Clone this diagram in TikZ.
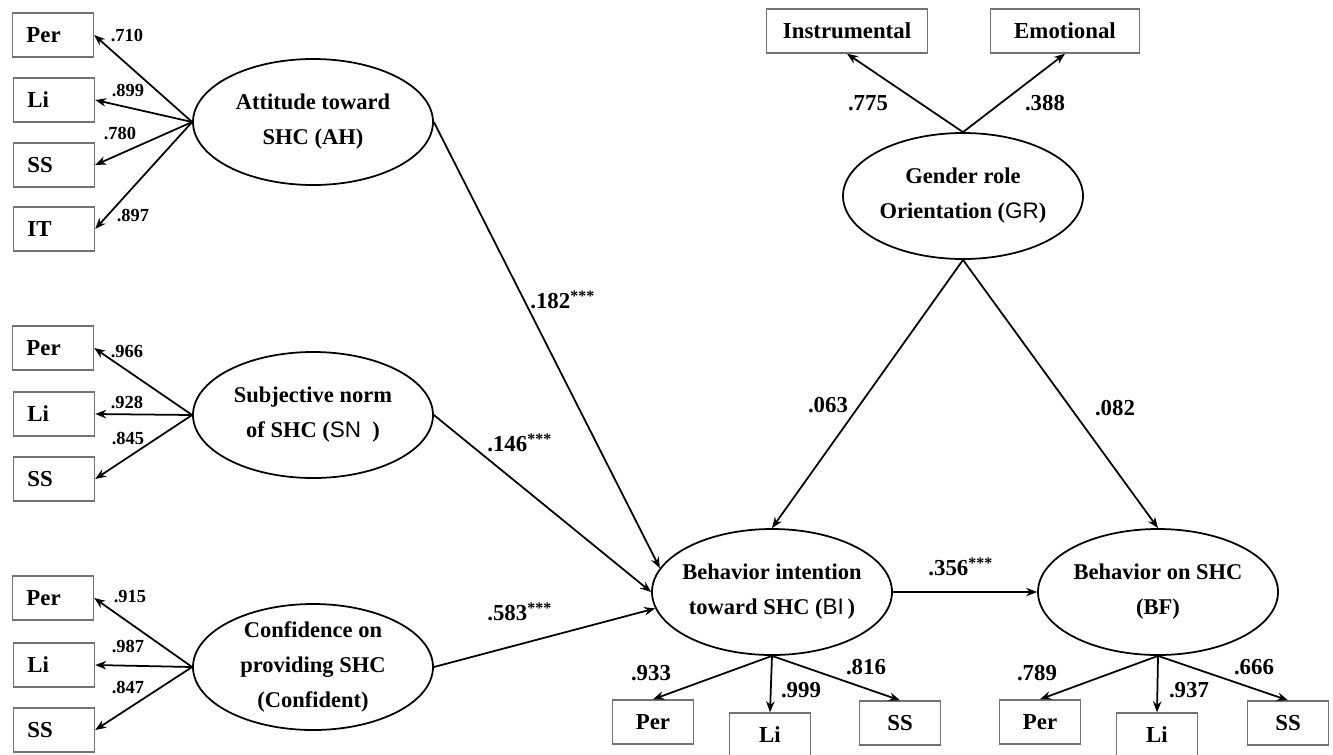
\documentclass[tikz,border=0pt]{standalone}
\usepackage{fontspec}
\setmainfont{Liberation Serif}
\setsansfont{Liberation Sans}
\usetikzlibrary{shapes.geometric, arrows.meta}

\tikzset{
   lat/.style={draw, ellipse, line width=1pt, minimum width=48mm, minimum height=25.2mm, inner sep=-4mm, align=center, font=\bfseries\fontsize{12.8}{20}\selectfont},
   obs/.style={draw=black!55, line width=0.8pt, minimum width=16.2mm, minimum height=8.8mm, inner sep=0pt, font=\bfseries\fontsize{13}{15}\selectfont},
   obsl/.style={obs, text width=10.6mm, align=left},
   load/.style={inner sep=0pt, font=\bfseries\fontsize{10.5}{12}\selectfont},
   coef/.style={inner sep=0pt, font=\bfseries\fontsize{13}{15}\selectfont},
   arr/.style={line width=1pt, -{Stealth[length=2.2mm, width=1.7mm]}}
}

\begin{document}
\begin{tikzpicture}[x=0.2mm, y=-0.2mm]

   \useasboundingbox (0,0) rectangle (1333,754);

   % 潜在変数
   \node [lat] (AH) at (313,122) {Attitude toward\\SHC (AH)};
   \node [lat] (SN) at (313,415) {Subjective norm\\of SHC (\textsf{\mdseries SN}~~)};
   \node [lat] (CF) at (313,667) {Confidence on\\providing SHC\\(Confident)};
   \node [lat] (BI) at (772,592) {Behavior intention\\toward SHC (\textsf{\mdseries BI}\,)};
   \node [lat] (BF) at (1158,592) {Behavior on SHC\\(BF)};
   \node [lat] (GR) at (963,196) {Gender role\\Orientation (\textsf{\mdseries GR})};

   % 観測変数 (左)
   \node [obsl] (AHper) at (53,35) {Per};
   \node [obsl] (AHli) at (54,100) {Li};
   \node [obsl] (AHss) at (54,165) {SS};
   \node [obsl] (AHit) at (54,229) {IT};
   \node [obsl] (SNper) at (53,348) {Per};
   \node [obsl] (SNli) at (54,414) {Li};
   \node [obsl] (SNss) at (54,479) {SS};
   \node [obsl] (CFper) at (53,598) {Per};
   \node [obsl] (CFli) at (54,665) {Li};
   \node [obsl] (CFss) at (54,730) {SS};

   % 観測変数 (下・上)
   \node [obs] (BIper) at (653,722) {Per};
   \node [obs] (BIli) at (770,735) {Li};
   \node [obs] (BIss) at (900,723) {SS};
   \node [obs] (BFper) at (1040,722) {Per};
   \node [obs] (BFli) at (1157,735) {Li};
   \node [obs] (BFss) at (1288,723) {SS};
   \node [obs, minimum width=32.2mm] (GRins) at (847,31) {Instrumental};
   \node [obs, minimum width=29.8mm] (GRemo) at (1065,31) {Emotional};

   % 因子負荷
   \draw [arr](AH.west)--(AHper.east);
   \draw [arr](AH.west)--(AHli.east);
   \draw [arr](AH.west)--(AHss.east);
   \draw [arr](AH.west)--(AHit.east);
   \draw [arr](SN.west)--(SNper.east);
   \draw [arr](SN.west)--(SNli.east);
   \draw [arr](SN.west)--(SNss.east);
   \draw [arr](CF.west)--(CFper.east);
   \draw [arr](CF.west)--(CFli.east);
   \draw [arr](CF.west)--(CFss.east);
   \draw [arr](BI.south)--(BIper.north);
   \draw [arr](BI.south)--(BIli.north);
   \draw [arr](BI.south)--(BIss.north);
   \draw [arr](BF.south)--(BFper.north);
   \draw [arr](BF.south)--(BFli.north);
   \draw [arr](BF.south)--(BFss.north);
   \draw [arr](GR.north)--(GRins.south);
   \draw [arr](GR.north)--(GRemo.south);

   \node [load] (lAHper) at (127,35) {.710};
   \node [load] (lAHli) at (128,90) {.899};
   \node [load] (lAHss) at (120,133) {.780};
   \node [load] (lAHit) at (133,215) {.897};
   \node [load] (lSNper) at (127,352) {.966};
   \node [load] (lSNli) at (127,402) {.928};
   \node [load] (lSNss) at (128,438) {.845};
   \node [load] (lCFper) at (130,597) {.915};
   \node [load] (lCFli) at (128,646) {.987};
   \node [load] (lCFss) at (128,687) {.847};
   \node [coef] (lBIper) at (651,673) {.933};
   \node [coef] (lBIli) at (801,690) {.999};
   \node [coef] (lBIss) at (866,667) {.816};
   \node [coef] (lBFper) at (1037,673) {.789};
   \node [coef] (lBFli) at (1189,690) {.937};
   \node [coef] (lBFss) at (1254,667) {.666};
   \node [coef] (lGRins) at (868,103) {.775};
   \node [coef] (lGRemo) at (1045,103) {.388};

   % パス係数
   \draw [arr](AH.east)--(BI.168);
   \draw [arr](SN.east)--(BI.west);
   \draw [arr](CF.east)--(BI.188);
   \draw [arr](GR.south)--(BI.north);
   \draw [arr](GR.south)--(BF.north);
   \draw [arr](BI.east)--(BF.west);

   \node [coef, anchor=west] (pAH) at (530,300) {.182\textsuperscript{***}};
   \node [coef, anchor=west] (pSN) at (487,443) {.146\textsuperscript{***}};
   \node [coef, anchor=west] (pCF) at (487,612) {.583\textsuperscript{***}};
   \node [coef] (pGRbi) at (828,405) {.063};
   \node [coef] (pGRbf) at (1115,408) {.082};
   \node [coef, anchor=west] (pBI) at (928,567) {.356\textsuperscript{***}};

\end{tikzpicture}
\end{document}
